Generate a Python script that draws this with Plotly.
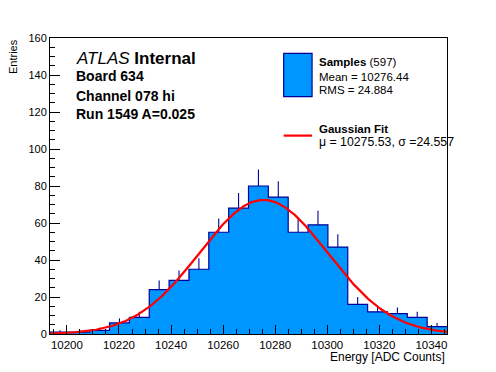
import numpy as np
import plotly.graph_objects as go

# ---- data ----
x_min = 10193.5
x_max = 10346.0
n_bins = 20
counts = [1, 1, 2, 6, 9, 24, 29, 35, 55, 68, 80, 74, 55, 59, 47, 16, 12, 11, 9, 4]
fit_mu = 10275.53
fit_sigma = 24.557
fit_amp = 72.5
y_range = [0, 160]
x_tick_vals = [10200, 10220, 10240, 10260, 10280, 10300, 10320, 10340]
y_tick_vals = [0, 20, 40, 60, 80, 100, 120, 140, 160]

legend_title = "Samples"
legend_n = "(597)"
legend_mean = "Mean = 10276.44"
legend_rms = "RMS = 24.884"
fit_title = "Gaussian Fit"
fit_text = "\u03bc = 10275.53, \u03c3 =24.557"

FILL = "#0096ff"
EDGE = "#000099"
FONT = "Liberation Sans, Arial, Helvetica, sans-serif"

OFF = 8  # default page body margin
W, H = 496 - OFF, 372 - OFF
L, R, T, B = 49.5, 446.7, 38.0, 334.3  # plot area in page pixels

edges = np.linspace(x_min, x_max, n_bins + 1)
centers = 0.5 * (edges[:-1] + edges[1:])
cnt = np.array(counts, dtype=float)

fig = go.Figure()

# histogram body (step contour + fill)
fig.add_trace(go.Scatter(
    x=list(edges), y=list(cnt) + [cnt[-1]],
    mode="lines", line=dict(shape="hv", color=EDGE, width=1.2),
    fill="tozeroy", fillcolor=FILL, hoverinfo="skip", showlegend=False))

# error bars (upper half)
fig.add_trace(go.Scatter(
    x=list(centers), y=list(cnt), mode="markers",
    marker=dict(size=0.1, color=EDGE, opacity=0),
    error_y=dict(type="data", array=list(np.sqrt(cnt)), arrayminus=[0] * n_bins,
                 symmetric=False, color=EDGE, thickness=1.1, width=0),
    showlegend=False))

# gaussian fit
xf = np.linspace(x_min, x_max, 400)
yf = fit_amp * np.exp(-0.5 * ((xf - fit_mu) / fit_sigma) ** 2)
fig.add_trace(go.Scatter(x=xf, y=yf, mode="lines",
                         line=dict(color="#ff0000", width=2.2), showlegend=False))


def px(x):
    return (x - L) / (R - L)


def py(y):
    return (B - y) / (B - T)


ann = []


def text(x, y, s, size, anchor="left", **kw):
    ann.append(dict(x=px(x), y=py(y), xref="paper", yref="paper", text=s,
                    showarrow=False, xanchor=anchor, yanchor="middle",
                    font=dict(family=FONT, size=size, color="black"), **kw))


text(74, 58.3, "<i>ATLAS</i> <b>Internal</b>", 17)
text(74, 76.5, "<b>Board 634</b>", 14)
text(74, 96, "<b>Channel 078 hi</b>", 14)
text(74, 114.5, "<b>Run 1549 A=0.025</b>", 14)

text(317, 62, "<b>" + legend_title + "</b> " + legend_n, 11.5)
text(317, 77, legend_mean, 11.5)
text(317, 90.5, legend_rms, 11.5)
text(317, 129.5, "<b>" + fit_title + "</b>", 11.5)
text(317, 142, fit_text, 12.3)

text(446.5, 357, "Energy [ADC Counts]", 12, anchor="right")
ann.append(dict(x=px(12), y=py(37), xref="paper", yref="paper", text="Entries",
                showarrow=False, xanchor="center", yanchor="top", textangle=-90,
                font=dict(family=FONT, size=11, color="black")))

shapes = [
    dict(type="rect", xref="paper", yref="paper", x0=px(283.3), x1=px(311.7),
         y0=py(53.3), y1=py(96.7), fillcolor=FILL, line=dict(color=EDGE, width=1.2)),
    dict(type="line", xref="paper", yref="paper", x0=px(283.3), x1=px(311.7),
         y0=py(135.7), y1=py(135.7), line=dict(color="#ff0000", width=2.2)),
]

fig.update_layout(
    width=W, height=H,
    margin=dict(l=L - OFF, r=W + OFF - R, t=T - OFF, b=H + OFF - B, pad=0, autoexpand=False),
    paper_bgcolor="white", plot_bgcolor="white",
    annotations=ann, shapes=shapes,
    font=dict(family=FONT, size=11, color="black"),
)
fig.update_xaxes(
    range=[x_min, x_max], showgrid=False, zeroline=False, automargin=False,
    showline=True, linecolor="black", linewidth=1, mirror=True,
    ticks="inside", ticklen=9, tickcolor="black", tickwidth=1,
    tickvals=x_tick_vals, tickformat="d", tickfont=dict(family=FONT, size=11.5),
    minor=dict(ticks="inside", ticklen=5, dtick=5, tick0=10200, tickcolor="black", showgrid=False),
)
fig.update_yaxes(
    range=y_range, showgrid=False, zeroline=False, automargin=False,
    showline=True, linecolor="black", linewidth=1, mirror=True,
    ticks="inside", ticklen=10, tickcolor="black", tickwidth=1,
    tickvals=y_tick_vals, tickformat="d", tickfont=dict(family=FONT, size=11),
    minor=dict(ticks="inside", ticklen=5, dtick=5, tick0=0, tickcolor="black", showgrid=False),
)

fig.write_html("out.html")
